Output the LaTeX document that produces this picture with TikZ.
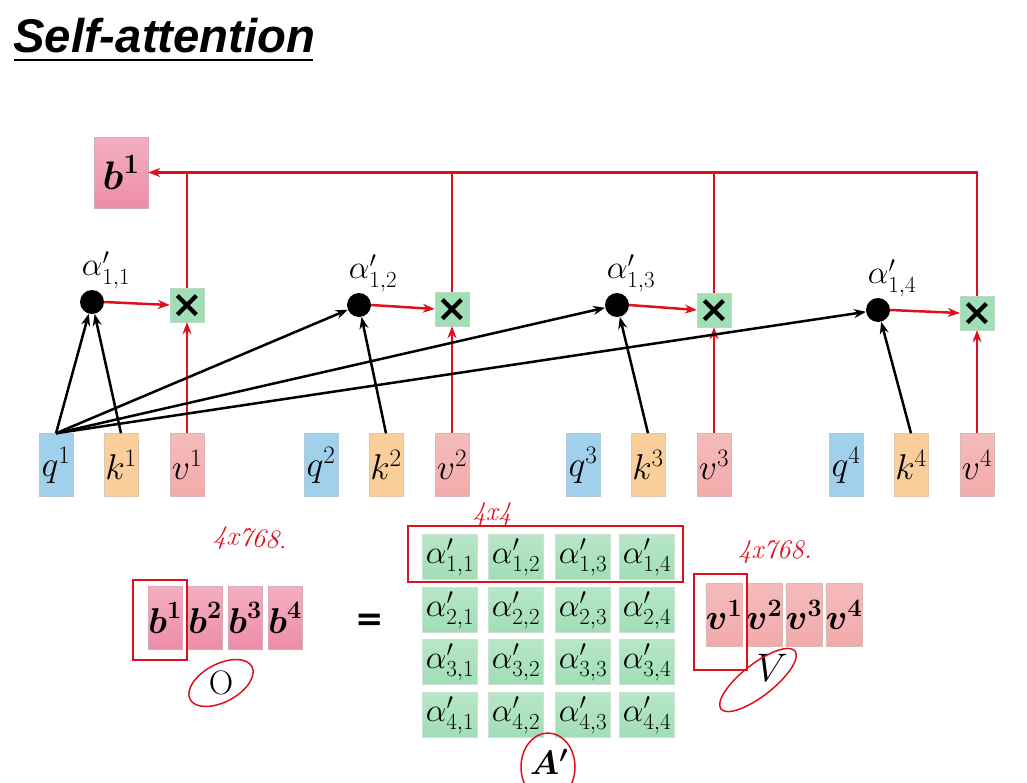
\RequirePackage{fix-cm}
\documentclass[tikz,border=0pt]{standalone}
\usepackage{amsmath}
\usepackage{amssymb}
\usepackage{fontspec}
\newfontfamily\titlefont{Liberation Sans}
\newfontfamily\symfont{DejaVu Sans}
\usepackage{xcolor}
\usetikzlibrary{arrows.meta, positioning}

\definecolor{qblue}{RGB}{160,208,236}
\definecolor{korange}{RGB}{250,206,154}
\definecolor{vpink}{RGB}{242,170,170}
\definecolor{bpink}{RGB}{238,140,168}
\definecolor{agreen}{RGB}{160,222,182}
\definecolor{linered}{RGB}{222,16,30}

\tikzset{
  vecbox/.style={minimum width=34bp, minimum height=63bp, inner sep=0pt,
    font=\fontsize{36}{40}\selectfont},
  qbox/.style={vecbox, fill=qblue, draw=qblue!80!black!60},
  kbox/.style={vecbox, fill=korange, draw=korange!80!black!60},
  vbox/.style={vecbox, top color=vpink!80, bottom color=vpink, draw=vpink!80!black!60},
  bbox/.style={vecbox, top color=bpink!70, bottom color=bpink, draw=bpink!80!black!60},
  abox/.style={minimum width=55bp, minimum height=45bp, inner sep=0pt,
    top color=agreen!75, bottom color=agreen, draw=agreen!80!black!40,
    font=\fontsize{33}{34}\selectfont},
  mulbox/.style={minimum size=34bp, inner sep=0pt,
    text height=24bp, text depth=0bp, fill=agreen, draw=agreen!80!black!50,
    font=\symfont\bfseries\fontsize{38}{38}\selectfont},
  scoredot/.style={circle, fill=black, minimum size=24bp, inner sep=0pt},
  alab/.style={font=\fontsize{33}{34}\selectfont, inner sep=1pt},
  redarr/.style={->, linered, line width=2.5bp},
  blackarr/.style={->, black, line width=2.5bp},
  hlbox/.style={draw=linered, line width=2bp},
  scrawl/.style={linered, font=\itshape\fontsize{27}{28}\selectfont},
}

\begin{document}
\begin{tikzpicture}[x=1bp, y=-1bp, >={Stealth[length=12bp, width=9bp]}]
  \useasboundingbox (0,0) rectangle (1027,783);

  % title
  \node[anchor=west, inner sep=0pt] (title) at (13,36)
       {\titlefont\bfseries\itshape\fontsize{47.5}{52}\selectfont Self-attention};
  \draw[line width=2.5bp] (14,60) -- (313,60);

  % output b^1
  \node[bbox, minimum width=54bp, minimum height=71bp, font=\fontsize{40}{44}\selectfont]
       (btop) at (121,172.5) {$\boldsymbol{b}^{\boldsymbol{1}}$};

  % q k v of each position, scores and products
  \foreach \i/\x/\dx/\dy/\my in {1/56/92/302/305, 2/321/359/305/309,
                                  3/583/617/305/310, 4/846/878/310/313}{
    \node[qbox] (q\i) at (\x,465) {$q^{\i}$};
    \node[kbox] (k\i) at (\x+65,465) {$k^{\i}$};
    \node[vbox] (v\i) at (\x+131,465) {$v^{\i}$};
    \node[scoredot] (d\i) at (\dx,\dy) {};
    \node[alab, above=0bp of d\i, xshift=14bp] (al\i) {$\alpha'_{1,\i}$};
    \node[mulbox] (m\i) at (\x+131,\my) {×};
    \draw[redarr] (d\i.east) -- (m\i.west);
    \draw[redarr] (v\i.north) -- (m\i.south);
    \draw[blackarr] (k\i.north) -- (d\i);
    \draw[blackarr] (q1.north) -- (d\i);
  }

  % weighted sum back to b^1
  \draw[redarr] (m4.north) |- (btop.east);
  \foreach \i in {1,2,3}{
    \draw[linered, line width=2.5bp] (m\i.north) -- (m\i.north |- btop.east);
  }

  % O = V A'
  \foreach \i/\x in {1/165, 2/205, 3/245, 4/285}{
    \node[bbox] (o\i) at (\x,618) {$\boldsymbol{b}^{\boldsymbol{\i}}$};
  }
  \node[font=\symfont\bfseries\fontsize{34}{34}\selectfont] (eq) at (370,622) {=};
  \foreach \r/\y in {1/557, 2/610, 3/662, 4/715}{
    \foreach \c/\x in {1/450, 2/516, 3/583, 4/647}{
      \node[abox] (a\r\c) at (\x,\y) {$\alpha'_{\r,\c}$};
    }
  }
  \foreach \i/\x in {1/724, 2/764, 3/804, 4/844}{
    \node[vbox] (w\i) at (\x,615) {$\boldsymbol{v}^{\boldsymbol{\i}}$};
  }

  \node[font=\fontsize{34}{34}\selectfont] (olab) at (221,683) {O};
  \node[font=\fontsize{34}{34}\selectfont, inner sep=1pt] (alabA) at (549,762) {$\boldsymbol{A'}$};
  \node[font=\fontsize{40}{40}\selectfont] (vlab) at (772,668) {$V$};

  % red marks
  \draw[hlbox] (133,580) rectangle (187,660);
  \draw[hlbox] (408,526) rectangle (683,582);
  \draw[hlbox] (694,574) rectangle (747,670);
  \draw[linered, line width=1.5bp, rotate around={28:(olab)}] (olab) ellipse (35bp and 19bp);
  \draw[linered, line width=1.5bp] (548,767) ellipse (27bp and 34bp);
  \draw[linered, line width=1.5bp, rotate around={38:(758,680)}] (758,680) ellipse (47bp and 16bp);
  \node[scrawl, rotate=-5] (s1) at (250,540) {4x768.};
  \node[scrawl] (s2) at (492,514) {4x4};
  \node[scrawl] (s3) at (775,552) {4x768.};
\end{tikzpicture}
\end{document}
